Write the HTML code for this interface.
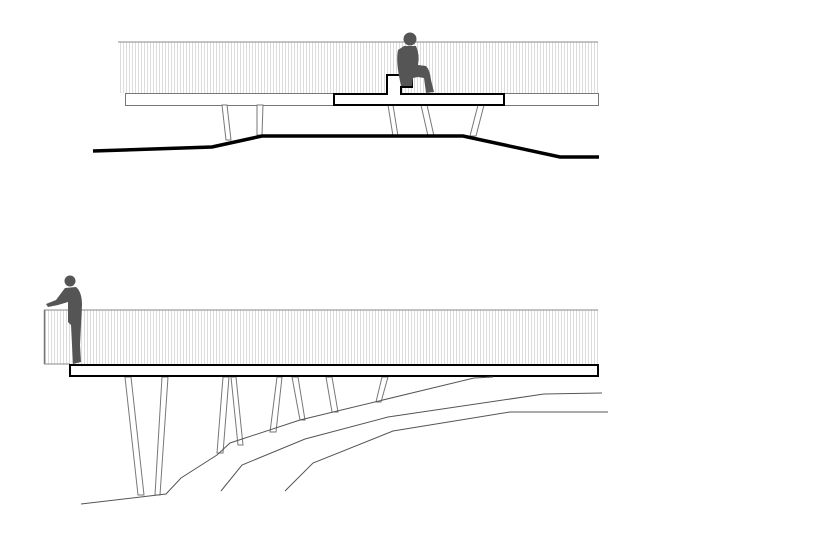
<!DOCTYPE html>
<html><head><style>html,body{margin:0;padding:0;background:#fff}svg{display:block}</style></head>
<body>
<svg width="816" height="539" viewBox="0 0 816 539" xmlns="http://www.w3.org/2000/svg">
<defs>
<pattern id="st" width="3" height="10" patternUnits="userSpaceOnUse">
<rect width="3" height="10" fill="#fff"/><rect width="1" height="10" fill="#dcdcdc"/>
</pattern>
</defs>
<!-- TOP -->
<rect x="118" y="42" width="480" height="51" fill="url(#st)"/>
<line x1="118" y1="42" x2="598" y2="42" stroke="#888" stroke-width="1"/>
<rect x="125.5" y="93.5" width="473" height="12" fill="#fff" stroke="#777" stroke-width="1"/>
<g stroke="#777" fill="#fff" stroke-width="1">
<polygon points="222,105 227,105 231,140 226,140"/>
<polygon points="257,105 263,105 262,135 257,135"/>
<polygon points="388,105 393,105 398,136 393,136"/>
<polygon points="421,105 427,105 434,136 428,136"/>
<polygon points="478,105 484,105 476,136 470,136"/>
</g>
<polygon points="334,94 387,94 387,75 412,75 412,87 401,87 401,94 504,94 504,105 334,105" fill="#fff" stroke="#000" stroke-width="2"/>
<!-- seated person -->
<g fill="#555">
<circle cx="410" cy="39" r="6.5"/>
<path d="M404,46 L416,46 Q420,55 418,65 L426,66 Q430,70 431,80 L434,92 L426,93 L424,78 L418,77 L413,78 L412,86 L401,86 L399,76 Q396,60 398,50 Z"/>
</g>
<polyline points="93,151 212,147 262,136 463,136 560,157 599,157" fill="none" stroke="#000" stroke-width="3.5"/>
<!-- BOTTOM -->
<rect x="44" y="310" width="554" height="54" fill="url(#st)"/>
<line x1="44" y1="310" x2="598" y2="310" stroke="#888" stroke-width="1"/>
<line x1="44.5" y1="310" x2="44.5" y2="364" stroke="#777" stroke-width="1.5"/>
<line x1="44" y1="364" x2="70" y2="364" stroke="#888" stroke-width="1"/>
<g stroke="#777" fill="#fff" stroke-width="1">
<polygon points="125,377 131,377 144,495 138,495"/>
<polygon points="162,377 168,377 160,495 155,495"/>
<polygon points="223,377 229,377 223,453 217,453"/>
<polygon points="231,377 236,377 243,445 238,445"/>
<polygon points="277,377 282,377 276,432 270,432"/>
<polygon points="292,377 298,377 305,420 300,420"/>
<polygon points="326,377 332,377 338,412 332,412"/>
<polygon points="382,377 388,377 381,402 376,402"/>
</g>
<rect x="70" y="365" width="528" height="11" fill="#fff" stroke="#000" stroke-width="2"/>
<g fill="none" stroke="#555" stroke-width="1">
<polyline points="81,504 166,494 181,478 217,455 230,443 300,420 474,378 493,377"/>
<polyline points="221,491 242,465 305,439 388,417 544,394 602,393"/>
<polyline points="285,491 313,463 393,431 510,412 608,412"/>
</g>
<!-- standing person -->
<g fill="#555">
<circle cx="70" cy="281" r="5.5"/>
<path d="M65,288 L76,287 Q82,292 82,305 L81,325 L80,345 L81,362 L73,364 L72,345 L71,325 L68,322 L68,302 L58,305 L48,307 L46,304 L56,300 Z"/>
</g>
</svg>
</body></html>
